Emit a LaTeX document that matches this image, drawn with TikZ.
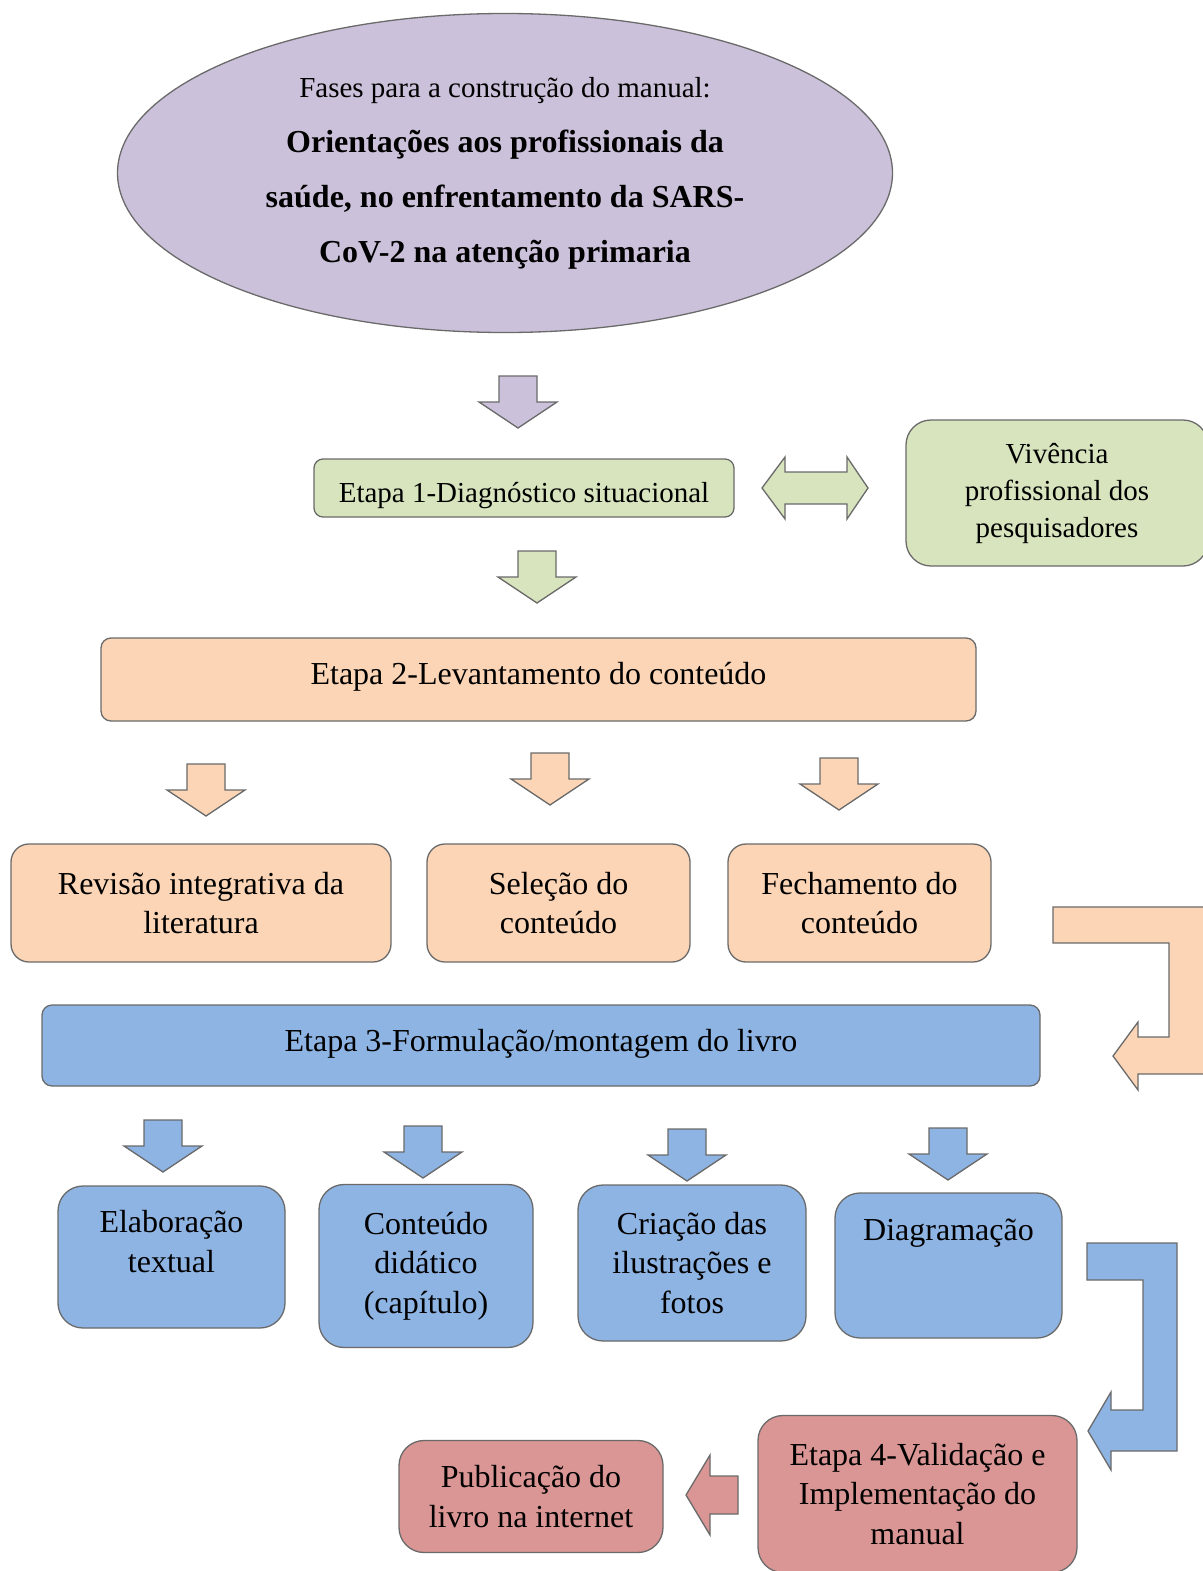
\documentclass[tikz,border=0pt]{standalone}
\usepackage{fontspec}
\setmainfont{Liberation Serif}
\usetikzlibrary{shapes.geometric}
\definecolor{lilac}{HTML}{CCC1DA}
\definecolor{sage}{HTML}{D7E4BD}
\definecolor{peach}{HTML}{FBD5B5}
\definecolor{sky}{HTML}{8EB4E3}
\definecolor{rose}{HTML}{D99694}
\definecolor{edge}{HTML}{6A6A6A}
\tikzset{
  stagebox/.style={
    rectangle, rounded corners=18pt, draw=edge, line width=1.3pt,
    align=center, inner sep=4pt, font=\fontsize{32}{39.5}\selectfont
  },
  greenbox/.style={stagebox, fill=sage, font=\fontsize{29}{37}\selectfont},
  peachbox/.style={stagebox, fill=peach},
  bluebox/.style={stagebox, fill=sky, rounded corners=25pt},
  redbox/.style={stagebox, fill=rose, rounded corners=25pt},
  blockarrow/.style={draw=edge, line width=1.3pt, line join=miter},
  downblock/.pic={
    \path[pic actions] (-19,-52) -- (19,-52) -- (19,-26) -- (39,-26)
      -- (0,0) -- (-39,-26) -- (-19,-26) -- cycle;
  },
  leftblock/.pic={
    \path[pic actions] (0,0) -- (24,-40) -- (24,-19) -- (52,-19)
      -- (52,19) -- (24,19) -- (24,40) -- cycle;
  },
}

\begin{document}
\begin{tikzpicture}[x=1pt, y=-1pt]
  \useasboundingbox (0,0) rectangle (1202,1571);

  % title
  \node[ellipse, draw=edge, line width=1.3pt, fill=lilac, minimum width=775pt,
        minimum height=319pt, inner sep=0pt, align=center,
        font=\fontsize{32}{55}\selectfont\bfseries] (tema) at (505,173)
    {{\mdseries\fontsize{29}{55}\selectfont Fases para a construção do manual:}\\
     Orientações aos profissionais da\\
     saúde, no enfrentamento da SARS-\\
     CoV-2 na atenção primaria};
  \pic[blockarrow, fill=lilac] at (518,428) {downblock};

  % etapa 1
  \node[greenbox, rounded corners=9pt, minimum width=420pt, minimum height=58pt,
        text height=31pt, text depth=3pt] (etapa1) at (524,488)
    {Etapa 1-Diagnóstico situacional};
  \node[greenbox, rounded corners=25pt, minimum width=302pt, minimum height=146pt]
    (vivencia) at (1057,493) {Vivência\\profissional dos\\pesquisadores};
  \filldraw[blockarrow, fill=sage] (762,488) -- (785,457) -- (785,472) -- (847,472)
    -- (847,457) -- (868,488) -- (847,519) -- (847,504) -- (785,504) -- (785,519) -- cycle;
  \pic[blockarrow, fill=sage] at (537,603) {downblock};

  % etapa 2
  \node[peachbox, rounded corners=10pt, minimum width=875pt, minimum height=83pt,
        text height=22pt, text depth=12pt] (etapa2) at (538.5,679.5)
    {Etapa 2-Levantamento do conteúdo};
  \foreach \x/\y in {206/816,550/805,839/810}
    \pic[blockarrow, fill=peach] at (\x,\y) {downblock};
  \node[peachbox, minimum width=380pt, minimum height=118pt] (revisao) at (201,903)
    {Revisão integrativa da\\literatura};
  \node[peachbox, minimum width=263pt, minimum height=118pt] (selecao) at (558.5,903)
    {Seleção do\\conteúdo};
  \node[peachbox, minimum width=263pt, minimum height=118pt] (fechamento) at (859.5,903)
    {Fechamento do\\conteúdo};
  \filldraw[blockarrow, fill=peach] (1053,907) -- (1206,907) -- (1206,1074) -- (1138,1074)
    -- (1138,1090) -- (1113,1056) -- (1138,1022) -- (1138,1037) -- (1169,1037)
    -- (1169,943) -- (1053,943) -- cycle;

  % etapa 3
  \node[bluebox, rounded corners=10pt, minimum width=998pt, minimum height=81pt,
        text height=22pt, text depth=10pt] (etapa3) at (541,1045.5)
    {Etapa 3-Formulação/montagem do livro};
  \foreach \x/\y in {163/1172,423/1178,687/1181,948/1180}
    \pic[blockarrow, fill=sky] at (\x,\y) {downblock};
  \node[bluebox, minimum width=227pt, minimum height=142pt,
        text height=62pt, text depth=32pt] (elaboracao) at (171.5,1257)
    {Elaboração\\textual};
  \node[bluebox, minimum width=214pt, minimum height=163pt] (conteudo) at (426,1266)
    {Conteúdo\\didático\\(capítulo)};
  \node[bluebox, minimum width=228pt, minimum height=156pt] (criacao) at (692,1263)
    {Criação das\\ilustrações e\\fotos};
  \node[bluebox, minimum width=227pt, minimum height=145pt,
        text height=22pt, text depth=72pt] (diagramacao) at (948.5,1265.5)
    {Diagramação};
  \filldraw[blockarrow, fill=sky] (1087,1243) -- (1177,1243) -- (1177,1451) -- (1111,1451)
    -- (1111,1470) -- (1088,1431) -- (1111,1392) -- (1111,1410) -- (1143,1410)
    -- (1143,1280) -- (1087,1280) -- cycle;

  % etapa 4
  \node[redbox, minimum width=319pt, minimum height=157pt] (etapa4) at (917.5,1494)
    {Etapa 4-Validação e\\Implementação do\\manual};
  \pic[blockarrow, fill=rose] at (686,1495) {leftblock};
  \node[redbox, minimum width=264pt, minimum height=112pt] (publicacao) at (531,1496.5)
    {Publicação do\\livro na internet};
\end{tikzpicture}
\end{document}
